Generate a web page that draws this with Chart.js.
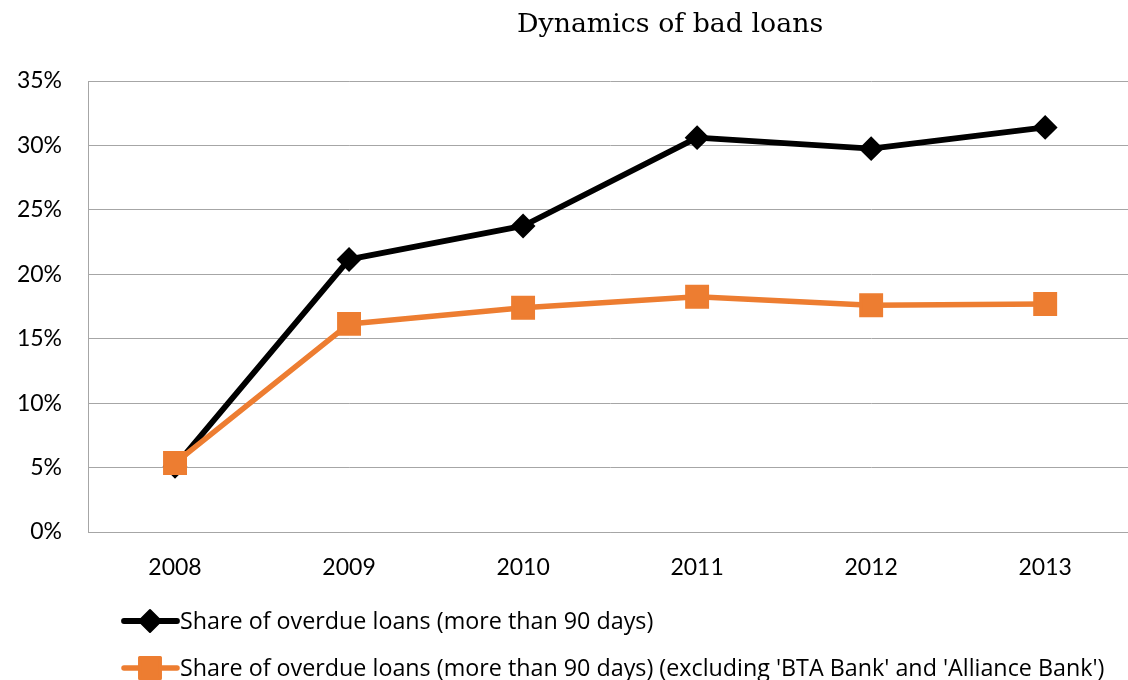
<!DOCTYPE html>
<html>
<head>
<meta charset="utf-8">
<script src="https://cdn.jsdelivr.net/npm/chart.js@4.4.1/dist/chart.umd.min.js"></script>
<style>
  html, body { margin: 0; padding: 0; background: #fff; overflow: hidden; }
  canvas { display: block; }
</style>
</head>
<body>
<canvas id="chart" width="1150" height="680"></canvas>
<script>
const years = ['2008', '2009', '2010', '2011', '2012', '2013'];
const overdueAll = [5.1, 21.15, 23.75, 30.6, 29.75, 31.4];
const overdueExcl = [5.35, 16.15, 17.4, 18.25, 17.6, 17.7];
const yTicks = [0, 5, 10, 15, 20, 25, 30, 35];

const chartTitle = 'Dynamics of bad loans';
const seriesNames = [
    'Share of overdue loans (more than 90 days)',
    "Share of overdue loans (more than 90 days) (excluding 'BTA Bank' and 'Alliance Bank')"
];

const gridColor = '#a6a6a6';
const labelFont = 'Lato, "Open Sans", sans-serif';

// title + legend drawn on the canvas, legend items use the dataset styles
const extras = {
    id: 'extras',
    afterDraw(chart) {
        const ctx = chart.ctx;
        const area = chart.chartArea;
        ctx.save();
        ctx.fillStyle = '#000';
        ctx.font = '26.8px "DejaVu Serif", serif';
        ctx.textAlign = 'center';
        ctx.textBaseline = 'middle';
        ctx.fillText(chartTitle, (area.left + area.right) / 2 + 60, 25);

        ctx.textAlign = 'left';
        ctx.font = '23.3px "Open Sans", sans-serif';
        chart.data.datasets.forEach((ds, i) => {
            const y = 621 + i * 47;
            ctx.strokeStyle = ds.borderColor;
            ctx.lineWidth = ds.borderWidth;
            ctx.lineCap = 'round';
            ctx.beginPath();
            ctx.moveTo(124, y);
            ctx.lineTo(177, y);
            ctx.stroke();
            ctx.fillStyle = ds.pointBackgroundColor;
            ctx.strokeStyle = ds.pointBorderColor;
            ctx.lineWidth = ds.pointBorderWidth;
            ctx.lineJoin = 'round';
            Chart.helpers.drawPoint(ctx, {
                pointStyle: ds.pointStyle,
                radius: ds.pointRadius,
                borderWidth: ds.pointBorderWidth
            }, 150, y);
            ctx.fillStyle = '#000';
            ctx.fillText(ds.label, 180, y + 1);
        });
        ctx.restore();
    }
};

new Chart(document.getElementById('chart'), {
    type: 'line',
    data: {
        labels: years,
        datasets: [{
            label: seriesNames[0],
            data: overdueAll,
            borderColor: '#000000',
            borderWidth: 5.8,
            pointStyle: 'rectRot',
            pointRadius: 11,
            pointHoverRadius: 11,
            pointBackgroundColor: '#000000',
            pointBorderColor: '#000000',
            pointBorderWidth: 2,
            borderJoinStyle: 'round',
            order: 2
        }, {
            label: seriesNames[1],
            data: overdueExcl,
            borderColor: '#ed7d31',
            borderWidth: 5.5,
            pointStyle: 'rect',
            pointRadius: 14.8,
            pointHoverRadius: 14.8,
            pointBackgroundColor: '#ed7d31',
            pointBorderColor: '#ed7d31',
            pointBorderWidth: 3,
            borderJoinStyle: 'round',
            order: 1
        }]
    },
    options: {
        responsive: false,
        animation: false,
        layout: { padding: { top: 81, right: 4, left: 0, bottom: 0 } },
        elements: { point: { borderJoinStyle: 'round' } },
        plugins: {
            legend: { display: false },
            title: { display: false },
            tooltip: { enabled: false }
        },
        scales: {
            x: {
                offset: true,
                grid: { display: false, drawTicks: false },
                border: { color: gridColor, width: 1 },
                ticks: { color: '#000', padding: 22, font: { family: labelFont, size: 23 } },
                afterFit(s) { s.height = 148; }
            },
            y: {
                min: 0,
                max: 35,
                afterBuildTicks(s) { s.ticks = yTicks.map(v => ({ value: v })); },
                grid: { color: gridColor, lineWidth: 1, drawTicks: false },
                border: { color: gridColor, width: 1 },
                ticks: {
                    color: '#000',
                    padding: 26,
                    font: { family: labelFont, size: 23 },
                    callback: v => v + '%'
                },
                afterFit(s) { s.width = 88; }
            }
        }
    },
    plugins: [extras]
});
</script>
</body>
</html>
